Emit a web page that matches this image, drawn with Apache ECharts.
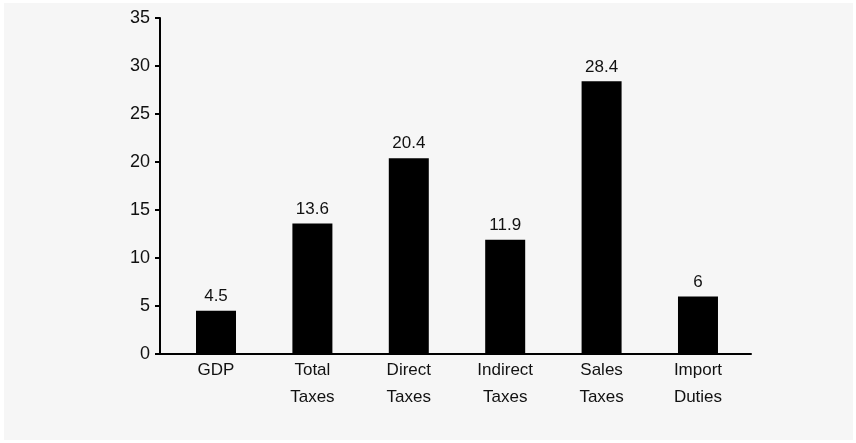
<!DOCTYPE html>
<html>
<head>
<meta charset="utf-8">
<script src="https://cdn.jsdelivr.net/npm/echarts@6/dist/echarts.min.js"></script>
<style>
  html, body { margin: 0; padding: 0; background: #ffffff; }
  #panel { position: absolute; left: 4px; top: 3px; width: 849px; height: 437px; background: #f6f6f6; }
  #chart { position: absolute; left: 0; top: 0; width: 856px; height: 443px; }
</style>
</head>
<body>
<div id="panel"></div>
<div id="chart"></div>
<script>
// Growth rates (%) by indicator
const categories = ['GDP', 'Total\nTaxes', 'Direct\nTaxes', 'Indirect\nTaxes', 'Sales\nTaxes', 'Import\nDuties'];
const values = [4.5, 13.6, 20.4, 11.9, 28.4, 6];
const yTicks = [0, 5, 10, 15, 20, 25, 30, 35];

const FONT = '"Liberation Sans", Arial, sans-serif';
const INK = '#111111';

const chart = echarts.init(document.getElementById('chart'), null, { renderer: 'canvas' });

chart.setOption({
  backgroundColor: 'transparent',
  animation: false,
  grid: { left: 160, right: 105, top: 18, bottom: 89, containLabel: false },
  xAxis: {
    type: 'value',
    min: -0.581,
    max: 5.55,
    splitLine: { show: false },
    axisLine: { show: true, onZero: false, lineStyle: { color: '#000', width: 2 } },
    axisTick: { show: false },
    axisLabel: {
      customValues: categories.map((_, i) => i),
      formatter: v => categories[Math.round(v)],
      color: INK,
      fontFamily: FONT,
      fontSize: 17,
      lineHeight: 27,
      margin: 3
    }
  },
  yAxis: {
    type: 'value',
    min: yTicks[0],
    max: yTicks[yTicks.length - 1],
    interval: 5,
    splitLine: { show: false },
    axisLine: { show: true, onZero: false, lineStyle: { color: '#000', width: 2 } },
    axisTick: { show: true, length: 5, lineStyle: { color: '#000', width: 2 } },
    axisLabel: { color: INK, fontFamily: FONT, fontSize: 18, margin: 10 }
  },
  series: [{
    type: 'bar',
    barWidth: 40,
    data: values.map((v, i) => [i, v]),
    itemStyle: { color: '#000000' },
    label: {
      show: true,
      position: 'top',
      distance: 6,
      color: INK,
      fontFamily: FONT,
      fontSize: 17,
      formatter: p => String(p.value[1])
    }
  }]
});
</script>
</body>
</html>
